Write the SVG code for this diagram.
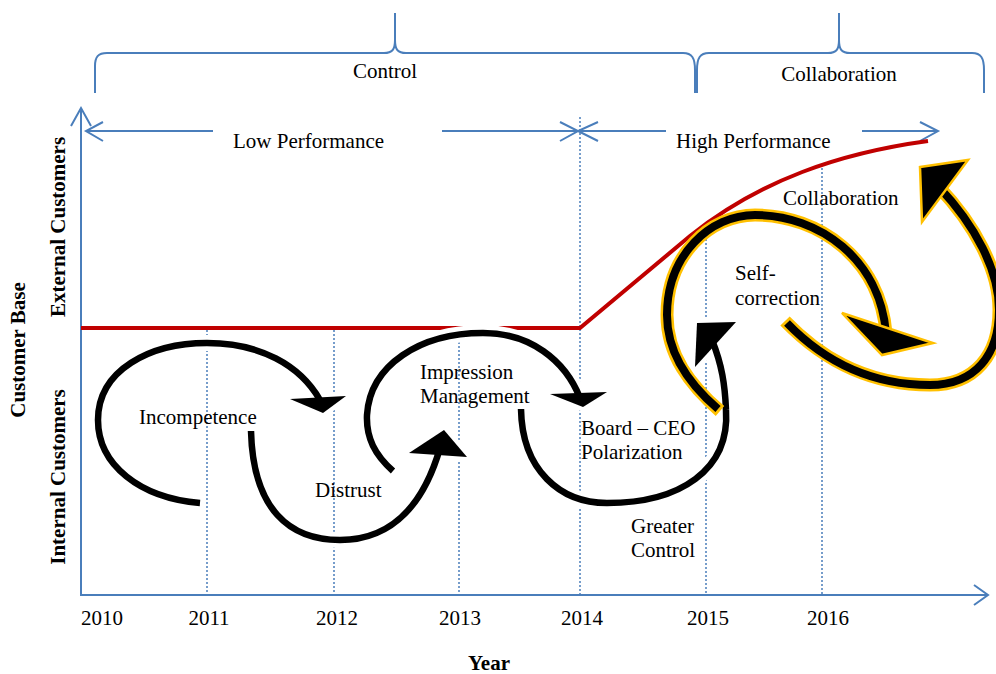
<svg xmlns="http://www.w3.org/2000/svg" width="996" height="674" viewBox="0 0 996 674">
  <style>
    .lbl { font-family: "Liberation Serif", "Times New Roman", serif; font-size: 21px; fill: #000; }
    .bold { font-weight: bold; }
    .axis { stroke: #4A7EBB; stroke-width: 2; fill: none; }
    .grid { stroke: #4A7EBB; stroke-width: 1.5; stroke-dasharray: 2 2; fill: none; }
    .trend { stroke: #C00000; stroke-width: 4; fill: none; }
    .halo { stroke: #fff; stroke-width: 16; fill: none; }
    .loop { stroke: #000; stroke-width: 6.5; fill: none; }
    .headhalo { fill: #fff; stroke: #fff; stroke-width: 9; stroke-linejoin: round; }
    .head { fill: #000; }
    .gold { stroke: #FFC000; stroke-width: 13; fill: none; }
    .goldcore { stroke: #000; stroke-width: 8; fill: none; }
    .goldhead { fill: #000; stroke: #FFC000; stroke-width: 2.5; }
  </style>
  <rect width="996" height="674" fill="#fff"/>

  <!-- year grid lines -->
  <g id="grid">
    <line class="grid" x1="207" y1="326" x2="207" y2="595"/>
    <line class="grid" x1="334" y1="326" x2="334" y2="595"/>
    <line class="grid" x1="459" y1="326" x2="459" y2="595"/>
    <line class="grid" x1="580" y1="117" x2="580" y2="595"/>
    <line class="grid" x1="706" y1="223" x2="706" y2="595"/>
    <line class="grid" x1="822" y1="164" x2="822" y2="595"/>
  </g>

  <!-- axes -->
  <g id="axes">
    <path class="axis" d="M81,108 L81,595 L988,595"/>
    <path class="axis" d="M71,126 L81,108 L91,126"/>
    <path class="axis" d="M974,585 L988,595 L974,605"/>
  </g>

  <!-- phase braces -->
  <g id="brace-control">
    <path class="axis" d="M95,93 L95,66 C95,57 98,53 107,53 L384,53 C392,53 395,50 395,40 L395,13 L395,40 C395,50 398,53 406,53 L683,53 C692,53 695,58 695,70 L695,93"/>
    <text class="lbl" x="385" y="78" text-anchor="middle">Control</text>
  </g>
  <g id="brace-collaboration">
    <path class="axis" d="M697,93 L697,70 C697,58 700,53 709,53 L828,53 C836,53 839,50 839,40 L839,13 L839,40 C839,50 842,53 850,53 L972,53 C981,53 984,58 984,70 L984,93"/>
    <text class="lbl" x="839" y="81" text-anchor="middle">Collaboration</text>
  </g>

  <!-- performance spans -->
  <g id="low-performance">
    <path class="axis" d="M86,131 L213,131 M442,131 L578,131"/>
    <path class="axis" d="M103,122 L86,131 L103,141 M560,122 L578,131 L560,141"/>
    <text class="lbl" x="233" y="148">Low Performance</text>
  </g>
  <g id="high-performance">
    <path class="axis" d="M578,131 L666,131 M862,131 L938,131"/>
    <path class="axis" d="M598,122 L578,131 L598,141 M920,122 L938,131 L920,141"/>
    <text class="lbl" x="676" y="148">High Performance</text>
  </g>

  <!-- customer base trend -->
  <g id="trend">
    <path class="trend" d="M81,328 L580,328 L690,236 C760,180 840,153 928,141"/>
  </g>

  <!-- cycle arrows -->
  <g id="connectors">
    <!-- incompetence loop -->
    <path class="halo" d="M200,503 C140,498 98,465 98,420 C98,370 150,343 207,343 C260,343 300,365 320,400"/>
    <polygon class="headhalo" points="290,399 346,396 323,413"/>
    <path class="loop" d="M200,503 C140,498 98,465 98,420 C98,370 150,343 207,343 C260,343 300,365 320,400"/>
    <polygon class="head" points="290,399 346,396 323,413"/>

    <!-- distrust loop -->
    <path class="halo" d="M251,431 C253,510 290,540 340,540 C395,540 425,500 440,448"/>
    <polygon class="headhalo" points="409,453 444,430 467,457"/>
    <path class="loop" d="M251,431 C253,510 290,540 340,540 C395,540 425,500 440,448"/>
    <polygon class="head" points="409,453 444,430 467,457"/>

    <!-- impression management loop -->
    <path class="halo" d="M393,471 C375,455 366,438 367,415 C370,365 420,333 483,333 C530,333 565,360 580,398"/>
    <polygon class="headhalo" points="550,394 607,392 583,407"/>
    <path class="loop" d="M393,471 C375,455 366,438 367,415 C370,365 420,333 483,333 C530,333 565,360 580,398"/>
    <polygon class="head" points="550,394 607,392 583,407"/>

    <!-- board / CEO polarization loop -->
    <path class="halo" d="M521,409 C522,470 560,503 607,503 C680,503 730,470 726,410 C725,385 722,365 712,340"/>
    <polygon class="headhalo" points="697,323 736,322 695,367"/>
    <path class="loop" d="M521,409 C522,470 560,503 607,503 C680,503 730,470 726,410 C725,385 722,365 712,340"/>
    <polygon class="head" points="697,323 736,322 695,367"/>

    <!-- self-correction loop -->
    <path class="gold" d="M720,411 C690,385 667,355 667,315 C667,255 710,215 755,215 C820,215 880,260 886,333"/>
    <path class="goldcore" d="M718,409 C690,385 667,355 667,315 C667,255 710,215 755,215 C820,215 880,260 886,333"/>
    <polygon class="goldhead" points="842,313 933,343 882,355"/>

    <!-- collaboration loop -->
    <path class="gold" d="M785,321 C815,352 860,385 930,385 C975,385 999,355 999,310 C999,270 975,225 938,186"/>
    <path class="goldcore" d="M787,323 C815,352 860,385 930,385 C975,385 999,355 999,310 C999,270 975,225 938,186"/>
    <polygon class="goldhead" points="920,167 968,160 922,222"/>
  </g>

  <!-- stage labels -->
  <g id="incompetence"><text class="lbl" x="139" y="424">Incompetence</text></g>
  <g id="distrust"><text class="lbl" x="315" y="497">Distrust</text></g>
  <g id="impression-management">
    <text class="lbl" x="420" y="379">Impression</text>
    <text class="lbl" x="420" y="403">Management</text>
  </g>
  <g id="board-ceo">
    <text class="lbl" x="581" y="435">Board – CEO</text>
    <text class="lbl" x="581" y="459">Polarization</text>
  </g>
  <g id="greater-control">
    <text class="lbl" x="631" y="533">Greater</text>
    <text class="lbl" x="631" y="557">Control</text>
  </g>
  <g id="self-correction">
    <text class="lbl" x="735" y="280">Self-</text>
    <text class="lbl" x="735" y="305">correction</text>
  </g>
  <g id="collaboration"><text class="lbl" x="783" y="205">Collaboration</text></g>

  <!-- axis labels -->
  <g id="years">
    <text class="lbl" x="102" y="625" text-anchor="middle">2010</text>
    <text class="lbl" x="209" y="625" text-anchor="middle">2011</text>
    <text class="lbl" x="337" y="625" text-anchor="middle">2012</text>
    <text class="lbl" x="460" y="625" text-anchor="middle">2013</text>
    <text class="lbl" x="582" y="625" text-anchor="middle">2014</text>
    <text class="lbl" x="708" y="625" text-anchor="middle">2015</text>
    <text class="lbl" x="828" y="625" text-anchor="middle">2016</text>
  </g>
  <g id="year-title"><text class="lbl bold" x="489" y="670" text-anchor="middle">Year</text></g>
  <g id="customer-base">
    <text class="lbl bold" transform="translate(25,350) rotate(-90)" text-anchor="middle">Customer Base</text>
  </g>
  <g id="external-customers">
    <text class="lbl bold" transform="translate(65,227) rotate(-90)" text-anchor="middle">External Customers</text>
  </g>
  <g id="internal-customers">
    <text class="lbl bold" transform="translate(65,477) rotate(-90)" text-anchor="middle">Internal Customers</text>
  </g>
</svg>
